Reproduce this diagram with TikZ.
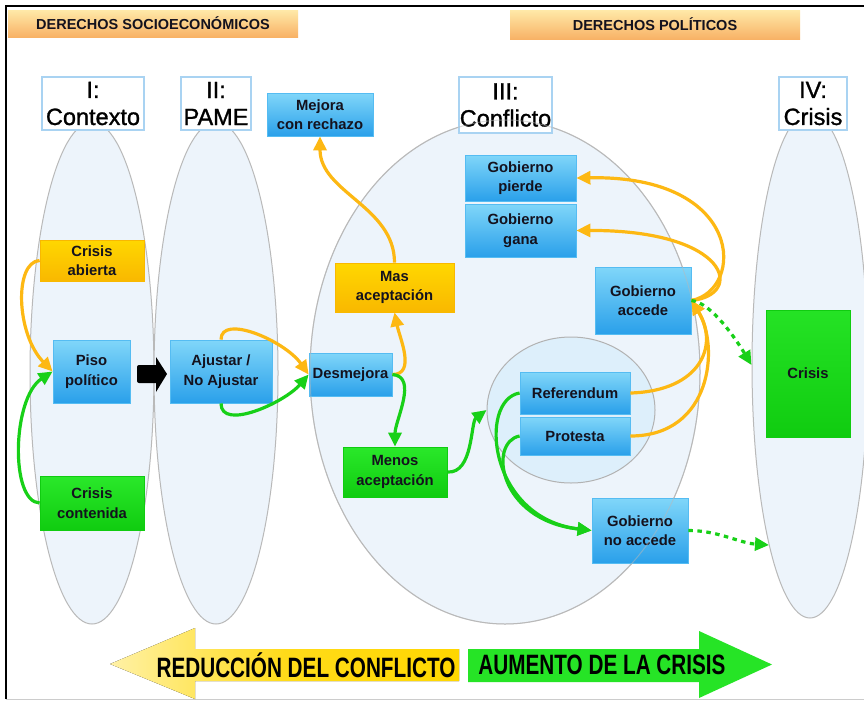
\documentclass[tikz,border=0pt]{standalone}
\usepackage{fontspec}
\setmainfont{Liberation Sans}
\newfontfamily\ttlfont{Liberation Sans}[FakeBold=1.2]
\usetikzlibrary{shapes.geometric,arrows.meta}
\definecolor{arrY}{HTML}{FDB813}
\definecolor{arrG}{HTML}{18D018}
\definecolor{ellfill}{HTML}{EDF4FB}
\definecolor{bluetop}{HTML}{80D6F9}
\definecolor{bluebot}{HTML}{2AA0EA}
\definecolor{blueedge}{HTML}{55BCF2}
\definecolor{yeltop}{HTML}{FFD700}
\definecolor{yelbot}{HTML}{F9B800}
\definecolor{grntop}{HTML}{2AE82A}
\definecolor{grnbot}{HTML}{10CC10}
\definecolor{ttlborder}{HTML}{A9D3F2}
\definecolor{txtdark}{HTML}{14121E}
\definecolor{bantop}{HTML}{FFE9A8}
\definecolor{banbot}{HTML}{F8B266}
\begin{document}
\begin{tikzpicture}[x=1pt,y=-1pt,
  ell/.style={ellipse, draw=gray!55, line width=1pt, fill=ellfill, inner sep=0pt},
  ttl/.style={draw=ttlborder, line width=1.3pt, fill=white, align=center, inner sep=0pt,
     font=\ttlfont\fontsize{23.5}{27}\selectfont, text=black},
  bx/.style={align=center, inner sep=0pt, text=txtdark, font=\bfseries\fontsize{14.8}{19.5}\selectfont},
  bluebox/.style={bx, top color=bluetop, bottom color=bluebot, draw=blueedge, line width=0.8pt},
  yelbox/.style={bx, top color=yeltop, bottom color=yelbot, draw=yelbot, line width=0.8pt},
  grnbox/.style={bx, top color=grntop, bottom color=grnbot, draw=grnbot, line width=0.8pt},
  banner/.style={top color=bantop, bottom color=banbot, inner sep=0pt, text=txtdark,
     font=\bfseries\fontsize{14.5}{16}\selectfont},
  ya/.style={draw=arrY, line width=3.2pt, -{Triangle[length=14pt,width=13pt]}},
  ga/.style={draw=arrG, line width=3.2pt, -{Triangle[length=14pt,width=13pt]}},
  gd/.style={ga, dash pattern=on 4.5pt off 4.5pt}
]
\useasboundingbox (0,0) rectangle (864,702);
\fill[white] (0,0) rectangle (864,702);
% frame
\draw[black, line width=1.5pt] (6,699) -- (6,6) -- (866,6);
\draw[gray!40, line width=1pt] (6,699) -- (866,699);

% banners
\node[banner, minimum width=290pt, minimum height=27pt] (banA) at (153,23.5) {DERECHOS SOCIOECONÓMICOS};
\node[banner, minimum width=290pt, minimum height=29pt] (banB) at (655,24.5) {DERECHOS POLÍTICOS};

% ellipses
\node[ell, minimum width=124pt, minimum height=502pt] (eI) at (92,373) {};
\node[ell, minimum width=124pt, minimum height=502pt] (eII) at (216,373) {};
\node[ell, minimum width=390pt, minimum height=504pt] (eIII) at (505,372) {};
\node[ell, minimum width=116pt, minimum height=506pt] (eIV) at (810,365) {};
\node[ell, minimum width=168pt, minimum height=146pt, fill=ellfill!85!bluetop, draw=gray!60] (eIn) at (571,410) {};

% titles
\node[ttl, minimum width=102pt, minimum height=53pt] (tI) at (93,103.5) {I:\\Contexto};
\node[ttl, minimum width=70pt, minimum height=53pt] (tII) at (216,103.5) {II:\\PAME};
\node[ttl, minimum width=93pt, minimum height=56pt] (tIII) at (505.5,105) {III:\\Conflicto};
\node[ttl, minimum width=68pt, minimum height=53pt] (tIV) at (813,103.5) {IV:\\Crisis};

% boxes
\node[bluebox, minimum width=106pt, minimum height=43pt] (mejora) at (320,114.5) {Mejora\\con rechazo};
\node[bluebox, minimum width=111pt, minimum height=46pt] (gpierde) at (520.5,178) {Gobierno\\pierde};
\node[bluebox, minimum width=111pt, minimum height=53pt] (ggana) at (520.5,230.5) {Gobierno\\gana};
\node[bluebox, minimum width=96pt, minimum height=67pt] (gaccede) at (643,300.5) {Gobierno\\accede};
\node[yelbox, minimum width=104pt, minimum height=41pt] (cabierta) at (92,260.5) {Crisis\\abierta};
\node[bluebox, minimum width=77pt, minimum height=63pt] (piso) at (91.5,371.5) {Piso\\político};
\node[bluebox, minimum width=102pt, minimum height=63pt] (ajustar) at (221,371.5) {Ajustar /\\No Ajustar};
\node[bluebox, minimum width=83pt, minimum height=43pt] (desmejora) at (350.5,374.5) {Desmejora};
\node[yelbox, minimum width=119pt, minimum height=49pt] (mas) at (394.5,287.5) {Mas\\aceptación};
\node[grnbox, minimum width=104pt, minimum height=50pt] (menos) at (395,472) {Menos\\aceptación};
\node[bluebox, minimum width=110pt, minimum height=42pt] (ref) at (575,393) {Referendum};
\node[bluebox, minimum width=110pt, minimum height=38pt] (prot) at (575,436) {Protesta};
\node[bluebox, minimum width=96pt, minimum height=65pt] (gnoacc) at (640,530.5) {Gobierno\\no accede};
\node[grnbox, top color=grntop!80!grnbot, minimum width=84pt, minimum height=127pt] (crisis) at (808,373.5) {Crisis};
\node[grnbox, minimum width=104pt, minimum height=54pt] (ccont) at (92,503) {Crisis\\contenida};

% ellipse III outline seen through boxes
\draw[gray!55, draw opacity=0.5, line width=1pt] (eIII.center) ellipse [x radius=195, y radius=252];

% black block arrow
\fill[black, rounded corners=2pt] (137,365) rectangle (158,383);
\fill[black] (156,357) -- (167,374) -- (156,392) -- cycle;

% connectors
\draw[ya] (cabierta.west) .. controls (14,262) and (16,334) .. (piso.west);
\draw[ga] (ccont.west) .. controls (10,502) and (12,398) .. (piso.west);
\draw[ya] (ajustar.north) .. controls +(0,-26) and +(-24,-34) .. (desmejora.west);
\draw[ga] (ajustar.south) .. controls +(0,28) and +(-24,28) .. (desmejora.west);
\draw[ya] (desmejora.east) .. controls +(24,0) and +(5,25) .. (mas.south);
\draw[ga] (desmejora.east) .. controls +(26,2) and +(0,-26) .. (menos.north);
\draw[ya] (mas.north) .. controls +(0,-56) and +(0,56) .. (mejora.south);
\draw[ga] (menos.east) .. controls +(26,2) and +(-16,12) .. (eIn.west);
\draw[ga] (ref.west) .. controls (478,400) and (488,518) .. (gnoacc.west);
\draw[ga] (prot.west) .. controls (488,442) and (498,520) .. (gnoacc.west);
\draw[ya] (ref.east) .. controls +(70,-2) and +(28,45) .. (gaccede.east);
\draw[ya] (prot.east) .. controls +(82,0) and +(28,45) .. (gaccede.east);
\draw[ya] (gaccede.east) .. controls (745,290) and (745,175) .. (gpierde.east);
\draw[ya] (gaccede.east) .. controls (745,295) and (730,230) .. (ggana.east);
\draw[gd] (gaccede.east) .. controls +(20,2) and +(-15,-25) .. (eIV.west);
\coordinate (eIVlow) at (769,545);
\draw[gd] (gnoacc.east) .. controls +(30,0) and +(-30,-2) .. (eIVlow);

% bottom arrows
\fill[left color=yeltop!35, right color=yeltop, middle color=yeltop!90] (459,649) -- (195,649) -- (195,628) -- (110,664) -- (195,699) -- (195,681) -- (459,681) -- cycle;
\fill[grntop!85!grnbot] (468,649) -- (699,649) -- (699,631) -- (772,664.5) -- (699,698) -- (699,682) -- (468,682) -- cycle;
\node[inner sep=0pt] (red) at (306,665) {\scalebox{0.74}[1]{\bfseries\fontsize{28}{28}\selectfont REDUCCIÓN DEL CONFLICTO}};
\node[inner sep=0pt] (aum) at (602,665) {\scalebox{0.74}[1]{\bfseries\fontsize{28}{28}\selectfont AUMENTO DE LA CRISIS}};
\end{tikzpicture}
\end{document}
